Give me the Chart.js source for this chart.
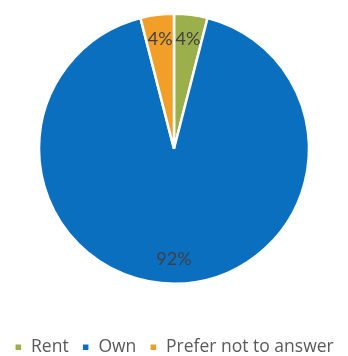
<!DOCTYPE html>
<html>
<head>
<meta charset="utf-8">
<script src="https://cdn.jsdelivr.net/npm/chart.js@4"></script>
<style>
  html, body { margin: 0; padding: 0; background: #fff; overflow: hidden; }
  #wrap { width: 348px; height: 384px; margin-top: -28px; }
</style>
</head>
<body>
<div id="wrap"><canvas id="chart"></canvas></div>
<script>
const labels = ['Rent', 'Own', 'Prefer not to answer'];
const values = [4, 92, 4];
const colors = ['#9bb04a', '#0b6fbf', '#f29f2a'];

// percentage labels drawn inside each slice
const sliceLabels = {
  id: 'sliceLabels',
  afterDatasetsDraw(chart) {
    const { ctx } = chart;
    const meta = chart.getDatasetMeta(0);
    ctx.save();
    ctx.font = '18px Lato, sans-serif';
    ctx.fillStyle = '#404040';
    ctx.textAlign = 'center';
    ctx.textBaseline = 'middle';
    meta.data.forEach((arc, i) => {
      const mid = (arc.startAngle + arc.endAngle) / 2;
      const r = arc.outerRadius * 0.82;
      ctx.fillText(values[i] + '%', arc.x + Math.cos(mid) * r, arc.y + Math.sin(mid) * r);
    });
    ctx.restore();
  }
};

new Chart(document.getElementById('chart'), {
  type: 'pie',
  data: {
    labels: labels,
    datasets: [{
      data: values,
      backgroundColor: colors,
      borderColor: '#ffffff',
      borderWidth: 2.5
    }]
  },
  options: {
    responsive: true,
    maintainAspectRatio: false,
    animation: false,
    radius: 135,
    layout: { padding: { top: 0, bottom: -10 } },
    plugins: {
      tooltip: { enabled: false },
      legend: {
        position: 'bottom',
        labels: {
          font: { family: 'Open Sans', size: 17.5 },
          color: '#595959',
          boxWidth: 8,
          boxHeight: 8,
          padding: 13
        }
      }
    }
  },
  plugins: [sliceLabels]
});
</script>
</body>
</html>
